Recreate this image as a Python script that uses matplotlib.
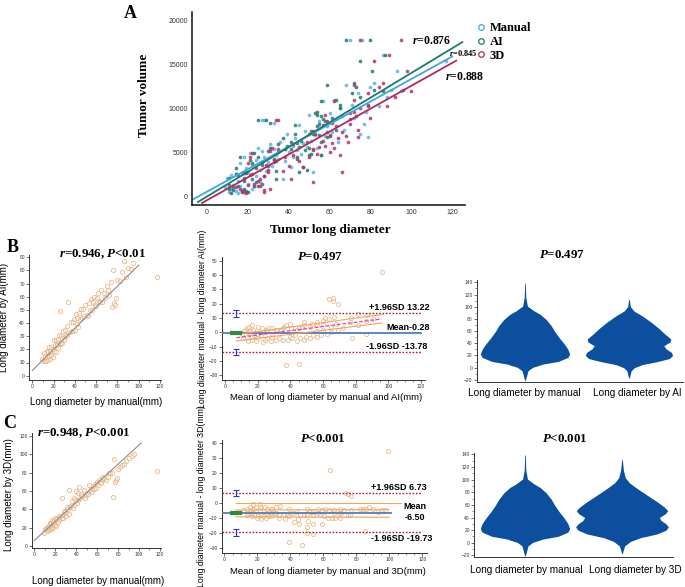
import numpy as np
import matplotlib
matplotlib.use("Agg")
import matplotlib.pyplot as plt
from matplotlib.lines import Line2D
from matplotlib.ticker import MultipleLocator

plt.rcParams['font.family'] = ['Liberation Sans', 'DejaVu Sans']
plt.rcParams['mathtext.fontset'] = 'custom'
plt.rcParams['mathtext.rm'] = 'Liberation Serif:bold'
plt.rcParams['mathtext.it'] = 'Liberation Serif:bold:italic'
plt.rcParams['mathtext.bf'] = 'Liberation Serif:bold'

# long diameter of each tumour (mm) by the three methods, and tumour volume
manual = np.array([9, 10, 11, 12, 12, 13, 14, 14, 15, 15, 16, 16, 17, 17, 18, 18, 19, 19, 20, 20,
                   21, 22, 22, 23, 24, 24, 25, 26, 26, 27, 27, 28, 28, 29, 30, 31, 32, 33, 33, 34,
                   35, 36, 37, 38, 38, 39, 40, 41, 42, 42, 43, 44, 45, 46, 47, 48, 49, 50, 51, 52,
                   53, 54, 55, 56, 57, 58, 59, 60, 61, 62, 63, 64, 65, 66, 67, 68, 70, 71, 72, 74,
                   75, 76, 77, 78, 79, 80, 82, 84, 86, 88, 90, 93, 95, 117])
ai = np.array([13, 11, 17, 11, 15, 11, 19, 14, 18, 12, 22, 15, 19, 13, 22, 16, 20, 14, 27, 19,
               23, 18, 27, 23, 21, 28, 31, 49, 24, 30, 25, 25, 29, 34, 27, 35, 30, 38, 31, 56,
               33, 41, 34, 41, 34, 43, 35, 47, 39, 44, 37, 48, 43, 51, 44, 51, 45, 54, 46, 45,
               55, 50, 58, 50, 56, 60, 54, 53, 59, 63, 57, 56, 65, 56, 63, 59, 68, 65, 61, 71,
               52, 80, 55, 54, 59, 73, 72, 79, 87, 75, 82, 81, 86, 75])
d3 = np.array([14, 18, 18, 16, 21, 20, 17, 22, 25, 19, 20, 25, 18, 28, 26, 21, 28, 24, 23, 30,
               22, 31, 29, 26, 33, 28, 32, 30, 52, 31, 34, 38, 35, 37, 33, 42, 40, 35, 61, 42,
               44, 49, 41, 52, 45, 50, 60, 47, 58, 50, 64, 52, 57, 54, 61, 52, 55, 58, 57, 66,
               60, 62, 59, 65, 62, 68, 63, 70, 66, 72, 70, 69, 75, 73, 74, 72, 75, 79, 80, 79,
               53, 95, 70, 72, 74, 84, 86, 88, 89, 92, 96, 98, 100, 82])
volume = np.array([1100, 2200, 600, 900, 2500, 1400, 700, 2600, 1800, 400,
                   3900, 1200, 2700, 800, 2100, 4500, 600, 3300, 1500, 2800,
                   5000, 900, 3600, 1200, 4200, 2400, 5600, 3100, 1700, 5200,
                   8700, 4600, 8800, 2900, 4000, 6000, 3500, 5400, 8400, 4800,
                   4300, 6300, 2000, 5500, 4100, 7200, 5100, 3400, 5800, 4600,
                   6700, 5300, 8200, 4900, 6100, 7500, 5700, 9300, 6400, 2800,
                   7000, 5600, 8600, 4800, 10900, 6900, 8100, 9500, 7400, 11000,
                   8900, 6200, 10100, 9200, 7600, 12700, 17800, 10500, 9000, 11800,
                   7200, 17800, 8300, 9700, 6800, 12500, 13000, 10300, 16100, 11400,
                   12200, 14300, 12000, 15400])

# panel A regression lines (volume = icpt + slope * diameter) and r values
methods = ['Manual', 'AI', '3D']
a_slope = [128, 140.4, 130]
a_icpt = [600, 48, -368]
a_xrange = [(-7.3, 120), (-4.4, 125), (-2.4, 122)]
a_r = ['0.845', '0.876', '0.888']

# correlation fit lines of the B/C scatter plots
b_fit_x, b_fit_y = [0, 100], [4, 84]
c_fit_x, c_fit_y = [0, 102], [6, 112]

# Bland-Altman statistics
ai_bias, ai_upper, ai_lower = -0.28, 13.22, -13.78
d3_bias, d3_upper, d3_lower = -6.50, 6.73, -19.73
ai_reg_x, ai_reg_mid, ai_reg_hi, ai_reg_lo = [7, 96], [-3.7, 9.4], [-1.5, 12.5], [-6, 6.5]
d3_reg_x, d3_reg_hi, d3_reg_lo = [7, 100], [-4.7, -4.5], [-9.3, -9.6]

# violin outlines: level (mm) and half width
vio_manual_y = [139, 115, 101, 93, 87.5, 79, 68.5, 60, 49.5, 38.6, 30.4, 22.3, 16.8, 10.3, 6, 0.5, -5, -21]
vio_manual_w = [0.003, 0.008, 0.024, 0.092, 0.152, 0.212, 0.264, 0.294, 0.34, 0.394, 0.428, 0.447,
                0.428, 0.333, 0.182, 0.076, 0.03, 0.003]
vio_ai_y = [112, 100, 93, 85, 75, 65, 55, 47, 42, 36, 31, 25, 20, 15, 10, 5, 0, -5, -17]
vio_ai_w = [0.003, 0.014, 0.049, 0.131, 0.218, 0.294, 0.36, 0.419, 0.409, 0.348, 0.37, 0.425, 0.436,
            0.404, 0.283, 0.131, 0.054, 0.022, 0.003]
vio_3d_y = [132, 115, 103, 95, 88, 80, 72, 64, 56, 51, 46, 40, 35, 30, 25, 20, 14, 8, 2, -5, -17]
vio_3d_w = [0.003, 0.014, 0.033, 0.074, 0.133, 0.207, 0.283, 0.36, 0.427, 0.457, 0.434, 0.373, 0.393,
            0.44, 0.464, 0.44, 0.35, 0.183, 0.083, 0.026, 0.003]
vio_pos_b = [0, 1.04]
vio_pos_c = [0, 0.97]

W, H = 685, 587
fig = plt.figure(figsize=(W / 100, H / 100), dpi=100)
serif = dict(family='Liberation Serif', weight='bold')
col = {'Manual': '#3ea6e0', 'AI': '#1a7a6c', '3D': '#b02a62'}
dot = {'Manual': '#5ab4e6', 'AI': '#23786e', '3D': '#b3346c'}
tan = '#e3b487'


def px_axes(l, t, r, b):
    return fig.add_axes([l / W, 1 - b / H, (r - l) / W, (b - t) / H])


def ftext(x, y, s, size, **kw):
    fig.text(x / W, 1 - y / H, s, fontsize=size, ha='center', va='center', **serif, **kw)


def small_axes(ax):
    for s in ['top', 'right']:
        ax.spines[s].set_visible(False)
    for s in ['left', 'bottom']:
        ax.spines[s].set_linewidth(0.7)
        ax.spines[s].set_color('#333333')
    ax.tick_params(labelsize=3.5, length=2, width=0.5, pad=1, colors='#333333')
    ax.tick_params(which='minor', length=1.2, width=0.4, colors='#333333')


# ---------------- panel A ----------------
axA = px_axes(192, 12, 465, 205)
diam = {'Manual': manual, 'AI': ai, '3D': d3}
for m in methods:
    axA.scatter(diam[m], volume, s=7, color=dot[m], alpha=0.85, lw=0)
for m, k, b, xr in zip(methods, a_slope, a_icpt, a_xrange):
    x = np.array(xr)
    axA.plot(x, b + k * x, color=col[m], lw=1.3)
axA.set_xlim(-7.3, 126.3)
axA.set_ylim(-909, 21020)
axA.set_xticks(range(0, 121, 20))
axA.set_yticks(range(0, 20001, 5000))
for s in ['top', 'right']:
    axA.spines[s].set_visible(False)
for s in ['left', 'bottom']:
    axA.spines[s].set_linewidth(1.2)
    axA.spines[s].set_color('#222222')
axA.tick_params(length=0, labelsize=5, pad=3, colors='#333333')
axA.set_ylabel('Tumor volume', fontsize=9.5, **serif)
axA.yaxis.set_label_coords(-0.154, 0.57)
axA.set_xlabel('Tumor long diameter', fontsize=9.5, **serif)
axA.xaxis.set_label_coords(0.505, -0.098)
handles = [Line2D([], [], marker='o', ls='', mfc='none', mec=col[m], ms=4, mew=0.9) for m in methods]
axA.legend(handles, methods, loc='upper left', bbox_to_anchor=((476 - 192) / 273, (205 - 22) / 193),
           frameon=False, prop=dict(family='Liberation Serif', weight='bold', size=9),
           handlelength=0.8, handletextpad=0.3, labelspacing=0.15, borderaxespad=0, borderpad=0)
ftext(432, 41, r'$\mathit{r}$=' + a_r[1], 8.5)
ftext(463, 53, r'$\mathit{r}$=' + a_r[0], 6)
ftext(465, 77, r'$\mathit{r}$=' + a_r[2], 8.5)

# ---------------- scatter B / C ----------------
def corr_panel(ax, y, fx, fy, ylab, xlim, ylim, ylab_xy, xlab_y):
    ax.scatter(manual, y, s=10, facecolor=(1, 0.93, 0.85, 0.35), edgecolor=tan, lw=0.5)
    ax.plot(fx, fy, color='#8c8c8c', lw=0.8)
    ax.set_xlim(*xlim)
    ax.set_ylim(*ylim)
    ax.xaxis.set_major_locator(MultipleLocator(20))
    ax.xaxis.set_minor_locator(MultipleLocator(10))
    small_axes(ax)
    ax.set_xlabel('Long diameter by manual(mm)', fontsize=7)
    ax.xaxis.set_label_coords(0.51, xlab_y)
    ax.set_ylabel(ylab, fontsize=7)
    ax.yaxis.set_label_coords(*ylab_xy)


axB1 = px_axes(29, 255, 161, 380)
corr_panel(axB1, ai, b_fit_x, b_fit_y, 'Long diameter by AI(mm)', (-3.1, 121), (-3.3, 91.7),
           (-0.155, 0.5), -0.136)
axB1.yaxis.set_major_locator(MultipleLocator(10))
axC1 = px_axes(31.7, 433, 161, 548.3)
corr_panel(axC1, d3, c_fit_x, c_fit_y, 'Long diameter by 3D(mm)', (-2.5, 121), (-2.5, 123),
           (-0.14, 0.47), -0.238)
axC1.yaxis.set_major_locator(MultipleLocator(20))


# ---------------- Bland-Altman B / C ----------------
def ba_panel(ax, other, bias, upper, lower, xlim, ylim, other_name, mean_end):
    mean_vals = (manual + other) / 2
    diff_vals = manual - other
    ax.scatter(mean_vals, diff_vals, s=9, facecolor=(1, 0.93, 0.85, 0.3), edgecolor=tan, lw=0.5, zorder=2)
    for lim in (upper, lower):
        ax.plot([xlim[0], 120], [lim, lim], color='#a0203a', lw=1.0, ls=(0, (1.2, 1.2)), zorder=3)
        ax.errorbar(7, lim, yerr=2.2, color='#2b35c8', capsize=2.5, lw=0.8, capthick=0.8, zorder=4)
    ax.plot([xlim[0], mean_end], [bias, bias], color='#4d7fbf', lw=1.3, zorder=3)
    ax.plot([4.5, 9.5], [bias, bias], color='#2e8b3e', lw=3, zorder=4)
    ax.set_xlim(*xlim)
    ax.set_ylim(*ylim)
    ax.xaxis.set_major_locator(MultipleLocator(20))
    ax.xaxis.set_minor_locator(MultipleLocator(5))
    ax.yaxis.set_major_locator(MultipleLocator(10))
    small_axes(ax)
    ax.set_xlabel(f'Mean of long diameter by manual and {other_name}(mm)', fontsize=6.8)
    ax.set_ylabel(f'Long diameter manual - long diameter {other_name}(mm)', fontsize=6.3)


axB2 = px_axes(221.7, 256.7, 425, 380)
ba_panel(axB2, ai, ai_bias, ai_upper, ai_lower, (-2, 122.4), (-33.2, 52.8), 'AI', 120)
axB2.plot(ai_reg_x, ai_reg_hi, color='#f2a65a', lw=0.8, zorder=3)
axB2.plot(ai_reg_x, ai_reg_lo, color='#f2a65a', lw=0.8, zorder=3)
axB2.plot(ai_reg_x, ai_reg_mid, color='#e040b0', lw=0.9, ls=(0, (3, 1.5)), zorder=3)
axB2.xaxis.set_label_coords(0.513, -0.108)
axB2.yaxis.set_label_coords(-0.072, 0.5)
bold = dict(fontsize=6.5, weight='bold', ha='right', va='center', clip_on=False)
axB2.text(125.5, ai_upper + 3.9, f'+1.96SD {ai_upper:.2f}', **bold)
axB2.text(125.5, ai_bias + 3.9, f'Mean{ai_bias:.2f}', **bold)
axB2.text(123.6, ai_lower + 3.9, f'-1.96SD {ai_lower:.2f}', **bold)

axC2 = px_axes(221.7, 440, 426.7, 552.7)
ba_panel(axC2, d3, d3_bias, d3_upper, d3_lower, (-1.6, 122.7), (-33.4, 42.3), '3D', 101)
axC2.plot([7, 107], [0, 0], color='#f2a65a', lw=0.8, zorder=3)
axC2.plot(d3_reg_x, d3_reg_hi, color='#f2a65a', lw=0.8, zorder=3)
axC2.plot(d3_reg_x, d3_reg_lo, color='#f2a65a', lw=0.8, zorder=3)
axC2.xaxis.set_label_coords(0.518, -0.124)
axC2.yaxis.set_label_coords(-0.077, 0.5)
axC2.text(122.8, d3_upper + 3.6, f'+1.96SD {d3_upper:.2f}', **bold)
axC2.text(122.8, d3_bias + 4.4, 'Mean', **bold)
axC2.text(121.6, d3_bias - 3.4, f'{d3_bias:.2f}', **bold)
axC2.text(125.9, d3_lower - 4.2, f'-1.96SD {d3_lower:.2f}', **bold)


# ---------------- violins B / C ----------------
def violin_panel(ax, pos, profiles, xlim, ylim, labels, label_pos, pad):
    for p, (yy, ww) in zip(pos, profiles):
        yy, ww = np.array(yy), np.array(ww)
        ax.fill_betweenx(yy, p - ww, p + ww, color='#0b4f9e', lw=0)
    ax.set_xlim(*xlim)
    ax.set_ylim(*ylim)
    ax.yaxis.set_major_locator(MultipleLocator(20))
    ax.yaxis.set_minor_locator(MultipleLocator(10))
    small_axes(ax)
    ax.set_xticks(label_pos)
    ax.set_xticklabels(labels, fontsize=7.2)
    ax.tick_params(axis='x', length=0, pad=pad, labelsize=7.2, colors='black')


axB3 = px_axes(476.7, 280, 682.7, 381.7)
violin_panel(axB3, vio_pos_b, [(vio_manual_y, vio_manual_w), (vio_ai_y, vio_ai_w)],
             (-0.483, 1.577), (-23, 143.8), ['Long diameter by manual', 'Long diameter by AI'],
             [-0.01, 1.12], 4.5)
axC3 = px_axes(474, 452.7, 673.3, 557.3)
violin_panel(axC3, vio_pos_c, [(vio_manual_y, vio_manual_w), (vio_3d_y, vio_3d_w)],
             (-0.51, 1.483), (-23, 142.6), ['Long diameter by manual', 'Long diameter by 3D'],
             [0.01, 1.10], 5.5)

# ---------------- titles and panel letters ----------------
ftext(130, 13, 'A', 13)
ftext(13, 248, 'B', 13)
ftext(10, 423, 'C', 13)
ftext(102, 254, r'$\mathit{r}$=0.946, $\mathit{P}$<0.01', 9.3)
ftext(320, 257, r'$\mathit{P}$=0.497', 9.3)
ftext(562, 255, r'$\mathit{P}$=0.497', 9.3)
ftext(84, 433, r'$\mathit{r}$=0.948, $\mathit{P}$<0.001', 9.3)
ftext(323, 439, r'$\mathit{P}$<0.001', 9.3)
ftext(565, 439, r'$\mathit{P}$<0.001', 9.3)

fig.savefig('out.png', dpi=100, facecolor='white')
